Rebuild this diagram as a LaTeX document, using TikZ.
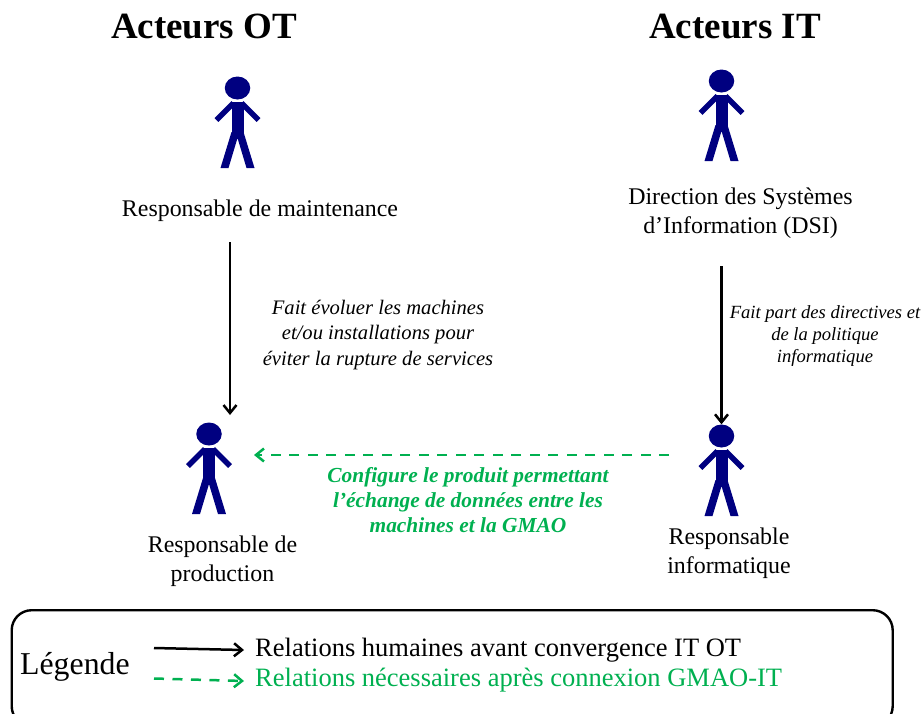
\documentclass[tikz,border=0pt]{standalone}
\usepackage{fontspec}
\setmainfont{Liberation Serif}
\usetikzlibrary{arrows.meta,shapes.geometric}
\definecolor{persblue}{HTML}{000080}
\definecolor{relgreen}{HTML}{00B050}
\tikzset{
    >={Straight Barb[length=8pt,width=13pt]},
    title/.style={font=\fontsize{37}{42}\selectfont\bfseries,anchor=base},
    role/.style={font=\fontsize{23.9}{28.5}\selectfont,align=center,anchor=center},
    relbefore/.style={line width=2.5pt,->},
    relafter/.style={line width=2.5pt,->,relgreen,dash pattern=on 10pt off 8.5pt},
    person/.pic={
        \node[ellipse,fill=persblue,inner sep=0pt,minimum width=25.5pt,minimum height=23pt] (-head) at (0,0) {};
        \fill[persblue] (-6,14) rectangle (6,46);
        \fill[persblue] (-6,44) -- (-17,80) -- (-9,80) -- (0,50)
            -- (9,80) -- (17,80) -- (6,44) -- cycle;
        \draw[persblue,line width=5.5pt] (-4,15) -- (-21,32);
        \draw[persblue,line width=5.5pt] (4,15) -- (21,32);
    }
}
\begin{document}
\begin{tikzpicture}[x=1pt,y=-1pt]
    \useasboundingbox (0,0) rectangle (921,713);
    %% Titles
    \node[title] (titleOT) at (204,38) {Acteurs OT};
    \node[title] (titleIT) at (735,38) {Acteurs IT};
    %% Persons
    \pic (maint) at (237.5,88) {person};
    \pic (dsi) at (721.5,81) {person};
    \pic (prod) at (209,434) {person};
    \pic (info) at (721.5,436) {person};
    %% Roles
    \node[role] (roleMaint) at (260,211) {Responsable de maintenance};
    \node[role] (roleDsi) at (740.5,213) {Direction des Systèmes\\d’Information (DSI)};
    \node[role] (roleProd) at (222.5,561) {Responsable de\\production};
    \node[role] (roleInfo) at (729,553) {Responsable\\informatique};
    %% Free ends of the arrows
    \coordinate (maintOut) at (230,242);
    \coordinate (prodIn) at (230,415);
    \coordinate (dsiOut) at (721.5,266);
    \coordinate (infoOut) at (669,455);
    \coordinate (prodSide) at (254,455);
    %% Relations
    \draw[relbefore] (maintOut) -- (prodIn);
    \draw[relbefore] (dsiOut) -- (info-head.north);
    \draw[relafter] (infoOut) -- (prodSide);
    %% Relation labels
    \node[font=\fontsize{20.6}{25.5}\selectfont\itshape,align=center] (labelMaint) at (378,335)
        {Fait évoluer les machines\\et/ou installations pour\\éviter la rupture de services};
    \node[font=\fontsize{18.6}{22}\selectfont\itshape,align=center] (labelDsi) at (825,336)
        {Fait part des directives et\\de la politique\\informatique};
    \node[font=\fontsize{21.4}{25}\selectfont\bfseries\itshape,align=center,text=relgreen] (labelInfo) at (468,500)
        {Configure le produit permettant\\l’échange de données entre les\\machines et la GMAO};
    %% Legend
    \node[draw,line width=2.4pt,rounded corners=20pt,minimum width=881pt,minimum height=116pt,anchor=north west]
        (legendBox) at (10.5,609) {};
    \node[font=\fontsize{31.8}{36}\selectfont,anchor=west,inner sep=0pt] (legendTitle) at (20,667) {Légende};
    \node[font=\fontsize{26.5}{30}\selectfont,anchor=west,inner sep=0pt] (legendBefore) at (255,650) {Relations humaines avant convergence IT OT};
    \node[font=\fontsize{26.5}{30}\selectfont,anchor=west,inner sep=0pt,text=relgreen] (legendAfter) at (255,680) {Relations nécessaires après connexion GMAO-IT};
    \coordinate (beforeStart) at (154,648);
    \coordinate (afterStart) at (154,678.5);
    \draw[relbefore] (beforeStart) -- ([xshift=-11pt]legendBefore.west);
    \draw[relafter] (afterStart) -- ([xshift=-11pt,yshift=-1pt]legendAfter.west);
\end{tikzpicture}
\end{document}
